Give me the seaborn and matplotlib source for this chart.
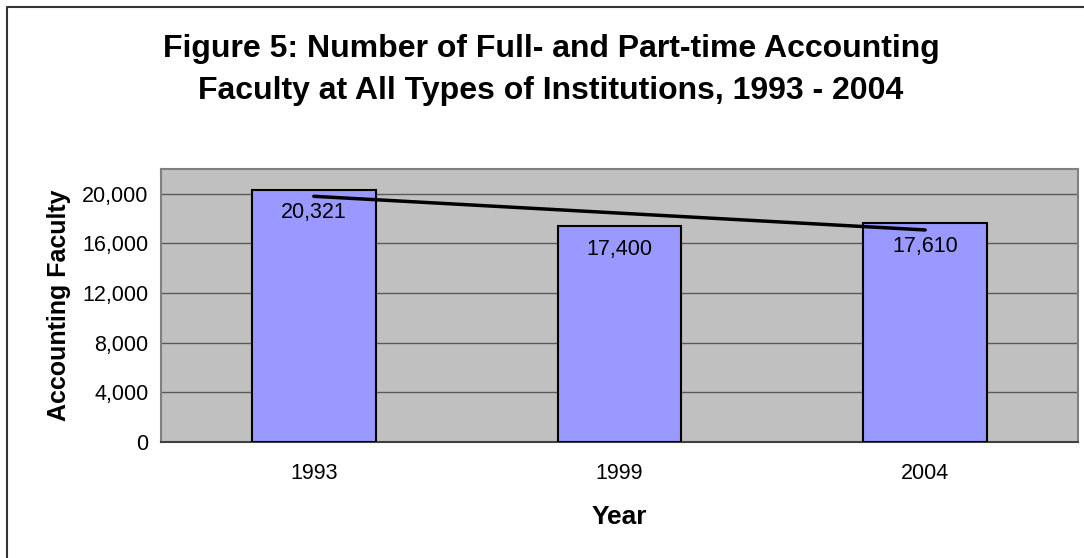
import numpy as np
import pandas as pd
import matplotlib
matplotlib.use("Agg")
import matplotlib.pyplot as plt
import seaborn as sns
from matplotlib.lines import Line2D

# data
years = ["1993", "1999", "2004"]
faculty = [20321, 17400, 17610]
y_ticks = [0, 4000, 8000, 12000, 16000, 20000]

df = pd.DataFrame({"Year": years, "Faculty": faculty})

sns.set_style("white")
plt.rcParams["font.family"] = ["Liberation Sans", "DejaVu Sans"]
plt.rcParams["text.color"] = "black"
plt.rcParams["axes.labelcolor"] = "black"
plt.rcParams["xtick.color"] = "black"
plt.rcParams["ytick.color"] = "black"

fig = plt.figure(figsize=(10.84, 5.58), dpi=100)
ax = fig.add_axes([161 / 1084, 1 - 442 / 558, (1078 - 161) / 1084, (442 - 169) / 558])
ax.set_facecolor("#C0C0C0")

sns.barplot(data=df, x="Year", y="Faculty", order=years, color="#9999FF",
            saturation=1, width=0.405, edgecolor="black", linewidth=1.5,
            zorder=3, ax=ax)

# linear trendline
xs = np.arange(len(years))
slope, icpt = np.polyfit(xs, faculty, 1)
ax.plot([xs[0], xs[-1]], [icpt, icpt + slope * xs[-1]], color="black", lw=2.5, zorder=5)

# value labels
for i, v in enumerate(faculty):
    ax.annotate(f"{v:,}", (i, v), xytext=(0, -9), textcoords="offset points",
                ha="center", va="top", fontsize=15.5, zorder=6)

ax.set_xlim(-0.5, 2.5)
ax.set_ylim(0, 22000)
ax.set_yticks(y_ticks)
ax.set_yticklabels([f"{t:,}" for t in y_ticks], fontsize=15.5)
ax.yaxis.grid(True, color="#5a5a5a", lw=1)
ax.set_axisbelow(True)

ax.set_xticks(xs)
ax.set_xticklabels(years, fontsize=15.5)
ax.tick_params(axis="x", which="major", length=0, pad=15, colors="black")
ax.set_xticks([-0.5, 0.5, 1.5, 2.5], minor=True)
ax.tick_params(axis="x", which="minor", length=5, color="#808080")
ax.tick_params(axis="y", length=5, color="#808080", labelcolor="black", pad=4)

for s in ["left", "top", "right"]:
    ax.spines[s].set_color("#808080")
    ax.spines[s].set_linewidth(1.5)
ax.spines["bottom"].set_color("#404040")
ax.spines["bottom"].set_linewidth(1.5)

ax.set_xlabel("Year", fontsize=19, fontweight="bold", labelpad=15)
ax.set_ylabel("Accounting Faculty", fontsize=18, fontweight="bold", labelpad=8)

fig.text(551 / 1084, 1 - 70 / 558,
         "Figure 5: Number of Full- and Part-time Accounting\nFaculty at All Types of Institutions, 1993 - 2004",
         ha="center", va="center", fontsize=23, fontweight="bold", linespacing=1.55)

# outer chart border (left and top visible)
fig.add_artist(Line2D([7 / 1084, 7 / 1084, 1.0], [0.0, 1 - 7 / 558, 1 - 7 / 558],
                      transform=fig.transFigure, color="#333333", lw=1.5))

fig.savefig("out.png", dpi=100)
